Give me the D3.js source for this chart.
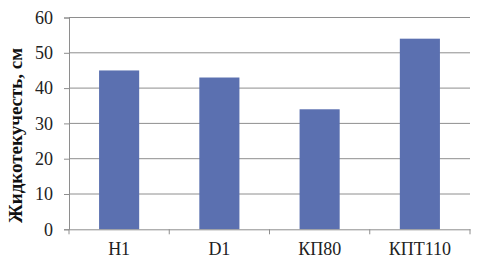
<!DOCTYPE html>
<html><head><meta charset="utf-8">
<script src="https://cdn.jsdelivr.net/npm/d3@7/dist/d3.min.js"></script>
<style>body{margin:0;background:#fff}svg{display:block}</style>
</head><body>
<script>
const categories = ["H1", "D1", "КП80", "КПТ110"];
const values = [45, 43, 34, 54];
const yTicks = [0, 10, 20, 30, 40, 50, 60];
const yTitle = "Жидкотекучесть, см";

const W = 479, H = 269;
const m = {left: 69, right: 9, top: 17.5, bottom: 39.7};
const svg = d3.select("body").append("svg").attr("width", W).attr("height", H);
const x = d3.scaleBand().domain(categories).range([m.left, W - m.right]).paddingInner(0.6).paddingOuter(0.3);
const xb = d3.scaleBand().domain(categories).range([m.left, W - m.right]);
const y = d3.scaleLinear().domain([0, 60]).range([H - m.bottom, m.top]);
const font = '"Liberation Serif"';
const gridCol = "#8e8e8e";

svg.append("g").selectAll("line").data(yTicks.filter(d => d > 0)).join("line")
  .attr("x1", m.left).attr("x2", W - m.right)
  .attr("y1", d => y(d)).attr("y2", d => y(d))
  .attr("stroke", gridCol).attr("stroke-width", 1);

svg.append("g").selectAll("rect").data(values).join("rect")
  .attr("x", (d, i) => x(categories[i])).attr("width", x.bandwidth())
  .attr("y", d => y(d)).attr("height", d => y(0) - y(d))
  .attr("fill", "#5b70b0");

const ya = svg.append("g").attr("transform", `translate(${m.left},0)`)
  .call(d3.axisLeft(y).tickValues(yTicks).tickSize(5).tickPadding(11));
ya.select(".domain").attr("stroke", gridCol);
ya.selectAll(".tick line").attr("stroke", gridCol);
ya.selectAll("text").style("font-family", font).style("font-size", "18px").attr("fill", "#222");

const xa = svg.append("g").attr("transform", `translate(0,${y(0)})`)
  .call(d3.axisBottom(xb).tickSize(0).tickPadding(10));
xa.select(".domain").attr("stroke", gridCol);
xa.selectAll("text").style("font-family", font).style("font-size", "18px").attr("fill", "#222").attr("dy", "0.9em");
const bounds = categories.map(c => xb(c)).concat([W - m.right]);
svg.append("g").selectAll("line").data(bounds).join("line")
  .attr("x1", d => d).attr("x2", d => d)
  .attr("y1", y(0)).attr("y2", y(0) + 5)
  .attr("stroke", gridCol);

svg.append("text")
  .attr("transform", `translate(22,${(m.top + y(0)) / 2 + 12}) rotate(-90)`)
  .attr("text-anchor", "middle")
  .style("font-family", font).style("font-weight", "bold").style("font-size", "19px")
  .attr("fill", "#111")
  .text(yTitle);
</script>
</body></html>
